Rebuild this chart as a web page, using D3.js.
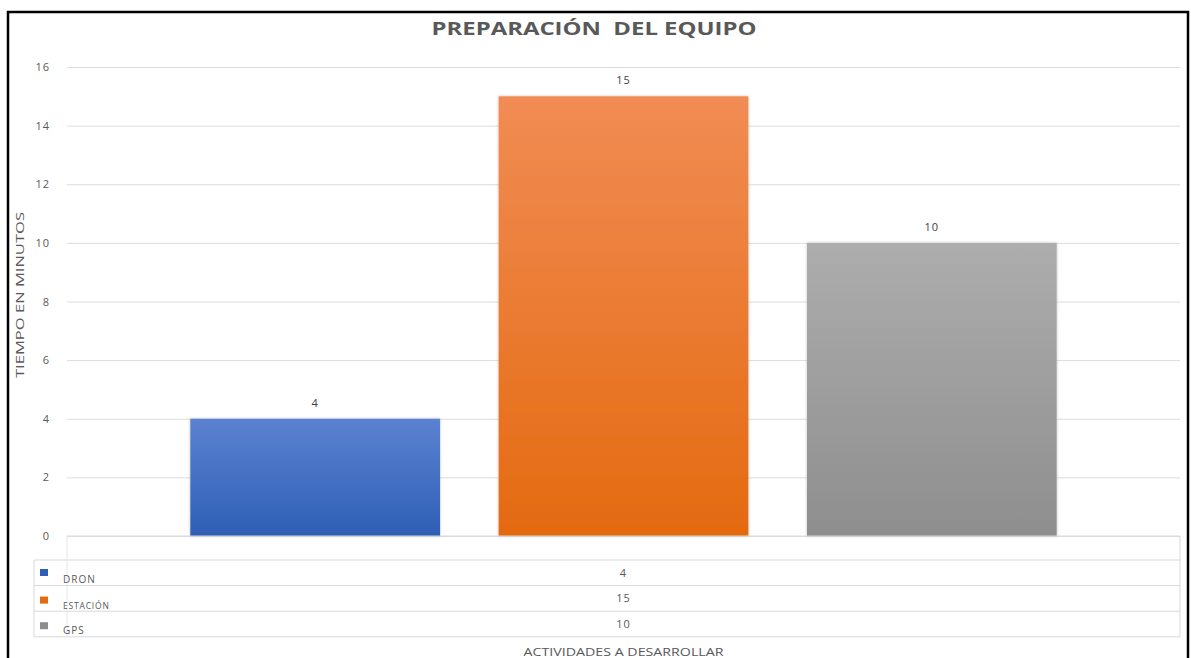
<!DOCTYPE html>
<html>
<head>
<meta charset="utf-8">
<script src="https://cdn.jsdelivr.net/npm/d3@7"></script>
<style>
  html, body { margin: 0; padding: 0; background: #fff; }
  svg { display: block; }
  text { font-family: "Open Sans", "Liberation Sans", sans-serif; }
</style>
</head>
<body>
<svg id="chart" width="1191" height="658"></svg>
<script>
// Chart data
const title = "PREPARACIÓN  DEL EQUIPO";
const categories = [""];
const seriesNames = ["DRON", "ESTACIÓN", "GPS"];
const seriesValues = [4, 15, 10];
const yTicks = [0, 2, 4, 6, 8, 10, 12, 14, 16];
const yTitle = "TIEMPO EN MINUTOS";
const xTitle = "ACTIVIDADES A DESARROLLAR";
const seriesColors = [
  ["#5b82d0", "#2e5fb6"],
  ["#f18c54", "#e46a10"],
  ["#adadad", "#8e8e8e"]
];

const svg = d3.select("#chart");
const plot = { left: 67, right: 1180, top: 67, bottom: 536 };
const table = { left: 34, rowTop: 560, rowH: 25.6 };

// Outer frame
svg.append("rect")
  .attr("x", 8).attr("y", 12)
  .attr("width", 1180).attr("height", 700)
  .attr("fill", "#fff").attr("stroke", "#000").attr("stroke-width", 2.5);

// Scales
const y = d3.scaleLinear().domain([0, 16]).range([plot.bottom, plot.top]);
const xCat = d3.scaleBand().domain(categories).range([plot.left, plot.right]);
const xSer = d3.scaleBand().domain(seriesNames)
  .range([xCat(categories[0]), xCat(categories[0]) + xCat.bandwidth()])
  .paddingInner(0.19).paddingOuter(0.40);

// Gradients
const defs = svg.append("defs");
seriesNames.forEach((s, i) => {
  const g = defs.append("linearGradient")
    .attr("id", "grad" + i).attr("x1", 0).attr("y1", 0).attr("x2", 0).attr("y2", 1);
  g.append("stop").attr("offset", "0%").attr("stop-color", seriesColors[i][0]);
  g.append("stop").attr("offset", "100%").attr("stop-color", seriesColors[i][1]);
});
const shadow = defs.append("filter").attr("id", "soft")
  .attr("x", "-5%").attr("y", "-5%").attr("width", "110%").attr("height", "110%");
shadow.append("feGaussianBlur").attr("in", "SourceAlpha").attr("stdDeviation", 1.5).attr("result", "b");
shadow.append("feComponentTransfer").attr("in", "b").attr("result", "b2")
  .append("feFuncA").attr("type", "linear").attr("slope", 0.25);
const merge = shadow.append("feMerge");
merge.append("feMergeNode").attr("in", "b2");
merge.append("feMergeNode").attr("in", "SourceGraphic");

// Y axis with gridlines
const yAxis = d3.axisLeft(y).tickValues(yTicks).tickSize(-(plot.right - plot.left)).tickPadding(17);
const gy = svg.append("g").attr("transform", `translate(${plot.left},0)`).call(yAxis);
gy.select(".domain").remove();
gy.selectAll(".tick line").attr("stroke", "#dcdcdc").attr("stroke-width", 1);
gy.selectAll(".tick text")
  .attr("fill", "#595959").attr("font-size", 11).attr("letter-spacing", 1);

// Bars
const data = seriesNames.map((s, i) => ({ name: s, value: seriesValues[i], idx: i }));
svg.append("g").selectAll("rect").data(data).join("rect")
  .attr("x", d => xSer(d.name))
  .attr("y", d => y(d.value))
  .attr("width", xSer.bandwidth())
  .attr("height", d => y(0) - y(d.value))
  .attr("fill", d => `url(#grad${d.idx})`)
  .attr("filter", "url(#soft)");

// Value labels above bars
svg.append("g").selectAll("text").data(data).join("text")
  .attr("x", d => xSer(d.name) + xSer.bandwidth() / 2)
  .attr("y", d => y(d.value) - 12)
  .attr("text-anchor", "middle")
  .attr("font-size", 11).attr("letter-spacing", 1).attr("fill", "#404040")
  .text(d => d.value);

// Data table under the axis
const tbl = svg.append("g").attr("stroke", "#d9d9d9").attr("stroke-width", 1).attr("fill", "none");
const rowsBottom = table.rowTop + table.rowH * seriesNames.length;
tbl.append("line").attr("x1", plot.left).attr("x2", plot.right).attr("y1", plot.bottom).attr("y2", plot.bottom);
for (let r = 0; r <= seriesNames.length; r++) {
  const yy = table.rowTop + r * table.rowH;
  tbl.append("line").attr("x1", table.left).attr("x2", plot.right).attr("y1", yy).attr("y2", yy);
}
tbl.append("line").attr("x1", table.left).attr("x2", table.left).attr("y1", table.rowTop).attr("y2", rowsBottom);
tbl.append("line").attr("x1", plot.left).attr("x2", plot.left).attr("y1", plot.bottom).attr("y2", rowsBottom)
  .attr("stroke", "#e6e6e6");
tbl.append("line").attr("x1", plot.right).attr("x2", plot.right).attr("y1", plot.bottom).attr("y2", rowsBottom);

// Legend keys, names and values in the table
const rows = svg.append("g").selectAll("g").data(data).join("g")
  .attr("transform", d => `translate(0,${table.rowTop + d.idx * table.rowH})`);
rows.append("rect")
  .attr("x", 40).attr("y", d => d.idx === 0 ? 9 : 11)
  .attr("width", 8).attr("height", 7)
  .attr("fill", d => seriesColors[d.idx][1]);
rows.append("text")
  .attr("x", 63).attr("y", 23)
  .attr("font-size", d => d.name === "ESTACIÓN" ? 8.5 : 10)
  .attr("letter-spacing", d => d.name === "ESTACIÓN" ? 0.8 : 1)
  .attr("fill", "#595959")
  .text(d => d.name);
rows.append("text")
  .attr("x", xCat(categories[0]) + xCat.bandwidth() / 2)
  .attr("y", table.rowH / 2 + 4)
  .attr("text-anchor", "middle")
  .attr("font-size", 11).attr("letter-spacing", 1).attr("fill", "#595959")
  .text(d => d.value);

// Title
svg.append("text")
  .attr("x", 594).attr("y", 35)
  .attr("text-anchor", "middle")
  .attr("xml:space", "preserve").style("white-space", "pre")
  .attr("font-size", 18.5).attr("font-weight", "bold").attr("fill", "#595959")
  .attr("textLength", 325).attr("lengthAdjust", "spacingAndGlyphs")
  .text(title);

// Axis titles
svg.append("text")
  .attr("transform", "translate(24,295) rotate(-90)")
  .attr("text-anchor", "middle")
  .attr("font-size", 11).attr("fill", "#595959")
  .attr("textLength", 166).attr("lengthAdjust", "spacingAndGlyphs")
  .text(yTitle);
svg.append("text")
  .attr("x", xCat(categories[0]) + xCat.bandwidth() / 2).attr("y", 656)
  .attr("text-anchor", "middle")
  .attr("font-size", 11.5).attr("fill", "#595959")
  .attr("textLength", 200).attr("lengthAdjust", "spacingAndGlyphs")
  .text(xTitle);
</script>
</body>
</html>
